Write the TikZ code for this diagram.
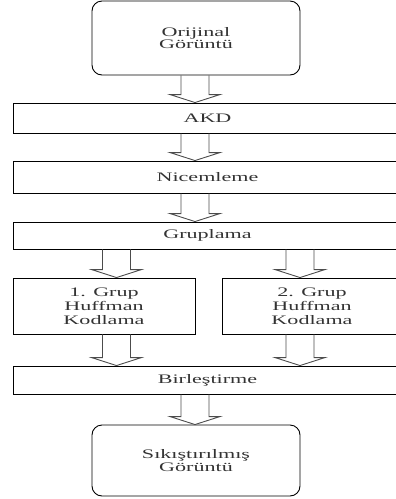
\documentclass[tikz,border=0pt]{standalone}
\usepackage{fontspec}
\setmainfont{Liberation Serif}[FakeStretch=1.7]
\usetikzlibrary{calc}

\tikzset{
  stage/.style={draw, line width=0.9pt, inner sep=0pt, align=center, text=black!80,
    font=\fontsize{13}{14}\selectfont},
  endbox/.style={stage, rounded corners=10pt, font=\fontsize{13}{12.5}\selectfont},
  hollow/.style={draw=black!70, line width=0.9pt, line join=miter}
}

% hollow block arrow: from node, to node, column coordinate
\newcommand{\hollowarrow}[3]{%
  \draw[hollow] let \p1=(#1.south -| #3), \p2=(#2.north -| #3) in
    (\x1-14pt,\y1) -- (\x1-14pt,\y2+8pt) -- (\x1-25pt,\y2+8pt) -- (\x2,\y2)
    -- (\x1+25pt,\y2+8pt) -- (\x1+14pt,\y2+8pt) -- (\x1+14pt,\y1);
}

\begin{document}
\begin{tikzpicture}[x=1pt, y=-1pt]
  \clip (0,0) rectangle (396,499);

  % Define columns
  \coordinate (mid) at (195,0);
  \coordinate (left) at (116.5,0);
  \coordinate (right) at (300,0);

  % Stages
  \node[endbox, minimum width=208, minimum height=74] (orig) at (196,38) {Orijinal\\Görüntü};
  \node[stage, minimum width=389, minimum height=30] (akd) at (207.5,118) {AKD};
  \node[stage, minimum width=389, minimum height=32] (quant) at (207.5,177) {Nicemleme};
  \node[stage, minimum width=389, minimum height=27] (group) at (207.5,235.5) {Gruplama};
  \node[stage, minimum width=182, minimum height=56] (huffa) at (104,306) {1. Grup\\Huffman\\Kodlama};
  \node[stage, minimum width=180, minimum height=56] (huffb) at (312,306) {2. Grup\\Huffman\\Kodlama};
  \node[stage, minimum width=389, minimum height=28] (merge) at (207.5,380) {Birleştirme};
  \node[endbox, minimum width=208, minimum height=71] (comp) at (196,460.5) {Sıkıştırılmış\\Görüntü};

  % Arrows
  \hollowarrow{orig}{akd}{mid}
  \hollowarrow{akd}{quant}{mid}
  \hollowarrow{quant}{group}{mid}
  \hollowarrow{group}{huffa}{left}
  \hollowarrow{group}{huffb}{right}
  \hollowarrow{huffa}{merge}{left}
  \hollowarrow{huffb}{merge}{right}
  \hollowarrow{merge}{comp}{mid}
\end{tikzpicture}
\end{document}
